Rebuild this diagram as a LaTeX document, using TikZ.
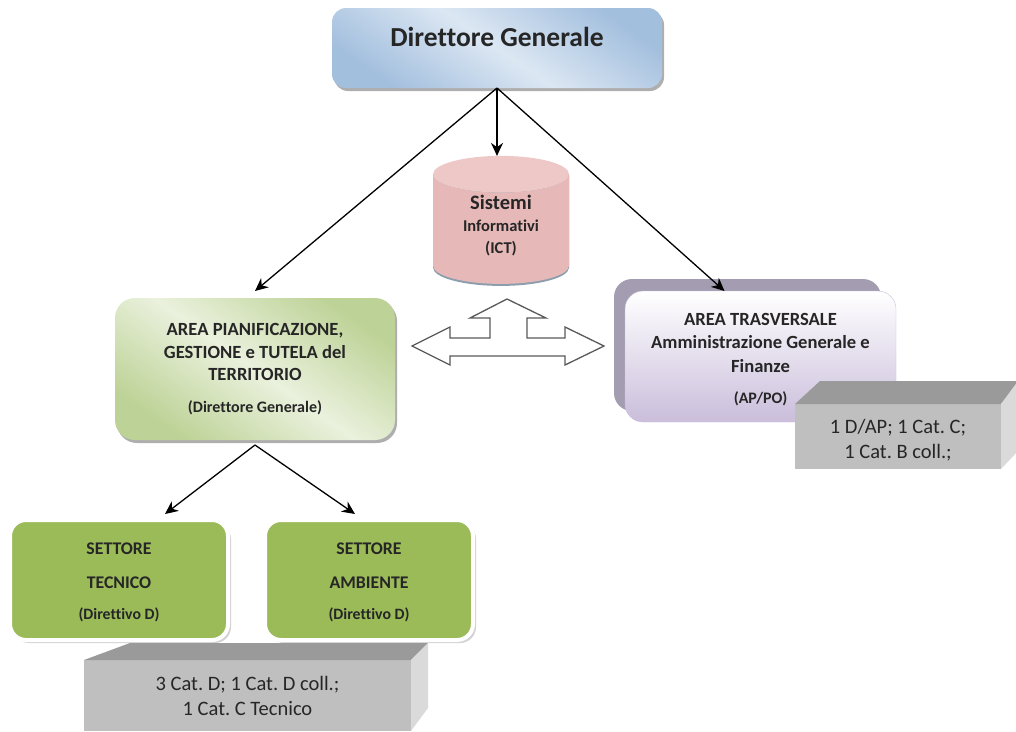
\documentclass[tikz,border=0pt]{standalone}
\usepackage{fontspec}
\setmainfont{Carlito}[Ligatures=CommonOff]
\usetikzlibrary{arrows.meta,shadows,shapes.geometric}
\definecolor{textdark}{HTML}{262626}
\definecolor{blueedge}{HTML}{A3BFDE}
\definecolor{bluemid}{HTML}{DCE7F3}
\definecolor{cylbody}{HTML}{E6B9B8}
\definecolor{cylend}{HTML}{EDC8C7}
\definecolor{cyledge}{HTML}{8C9DAE}
\definecolor{greenedge}{HTML}{BDD296}
\definecolor{greenmid}{HTML}{EAF1DD}
\definecolor{greenfull}{HTML}{9BBB59}
\definecolor{purpleback}{HTML}{A49CB0}
\definecolor{purplelow}{HTML}{CABEDB}
\definecolor{boxtop}{HTML}{9A9A9A}
\definecolor{boxfront}{HTML}{BFBFBF}
\definecolor{boxside}{HTML}{DADADA}
\tikzset{
  softshadow/.style={drop shadow={shadow xshift=2pt,shadow yshift=-3pt,fill=black!45,opacity=0.7}},
  gradbox/.style={rectangle,rounded corners=14pt,align=center,text=textdark,outer sep=0pt,softshadow},
  settorebox/.style={rectangle,rounded corners=16pt,align=center,text=textdark,outer sep=0pt,
    minimum height=120pt,fill=greenfull,draw=white,line width=4pt,
    drop shadow={shadow xshift=3pt,shadow yshift=-3pt,fill=black!35},font=\fontsize{17.8}{16}\selectfont\bfseries},
  facebox/.style={rectangle,fill=boxfront,align=center,text=textdark,outer sep=0pt,font=\fontsize{20.5}{25}\selectfont},
  link/.style={line width=1.3pt,-{Stealth[length=13pt,width=12pt]}}
}
\frenchspacing
\begin{document}
\begin{tikzpicture}[x=1pt,y=-1pt]
\useasboundingbox (0,0) rectangle (1016,731);
\node[gradbox,minimum width=330pt,minimum height=80pt,top color=blueedge,bottom color=blueedge,middle color=bluemid,shading angle=-35,
  text depth=22pt,font=\fontsize{27.5}{30}\selectfont\bfseries] (direttore) at (497,48) {Direttore Generale};
\node[cylinder,shape border rotate=90,aspect=5.5,minimum width=136pt,minimum height=128pt,outer sep=0pt,
  fill=cyledge] (sistemiShadow) at (501,234) {};
\node[cylinder,shape border rotate=90,aspect=5.5,minimum width=136pt,minimum height=128pt,outer sep=0pt,
  cylinder uses custom fill,cylinder body fill=cylbody,cylinder end fill=cylend] (sistemi) at (501,232) {};
\node[align=center,text=textdark,font=\fontsize{16.5}{22}\selectfont\bfseries] (sistemiLabel) at (501,226)
  {{\fontsize{20.5}{22}\selectfont Sistemi}\\Informativi\\(ICT)};
\node[gradbox,rounded corners=20pt,minimum width=280pt,minimum height=142pt,top color=greenedge,bottom color=greenedge,middle color=greenmid,shading angle=-35,
  font=\fontsize{18.6}{22.5}\selectfont\bfseries] (area) at (255,369)
  {AREA PIANIFICAZIONE,\\GESTIONE e TUTELA del\\TERRITORIO\\[9pt]{\fontsize{16}{16}\selectfont (Direttore Generale)}};
\node[rectangle,rounded corners=18pt,fill=purpleback,minimum width=267pt,minimum height=132pt,outer sep=0pt] (trasversaleBack) at (747.5,345) {};
\node[rectangle,rounded corners=18pt,draw=purplelow,top color=white,bottom color=purplelow,align=center,text=textdark,outer sep=0pt,
  minimum width=271pt,minimum height=131pt,font=\fontsize{18.6}{23.5}\selectfont\bfseries] (trasversale) at (760.5,356.5)
  {\rule{0pt}{18pt}AREA TRASVERSALE\\Amministrazione Generale e\\Finanze\\[8pt]{\fontsize{16}{16}\selectfont (AP/PO)}};
\node[settorebox,minimum width=218pt] (tecnico) at (119,580) {\rule{0pt}{16pt}SETTORE\\[18pt]TECNICO\\[15pt]{\fontsize{15.8}{15}\selectfont (Direttivo D)}};
\node[settorebox,minimum width=208pt] (ambiente) at (369,580) {\rule{0pt}{16pt}SETTORE\\[18pt]AMBIENTE\\[15pt]{\fontsize{15.8}{15}\selectfont (Direttivo D)}};
%staff boxes
\node[facebox,minimum width=206pt,minimum height=65pt] (staffTrasversale) at (898,436.5) {\rule{0pt}{22pt}1 D/AP; 1 Cat. C;\\1 Cat. B coll.;};
\fill[boxtop] (staffTrasversale.north west) -- ++(25,-23) -- ++(200,0) -- (staffTrasversale.north east) --cycle;
\fill[boxside] (staffTrasversale.north east) -- ++(17,-23) -- ++(0,70) -- (staffTrasversale.south east) --cycle;
\node[facebox,minimum width=327pt,minimum height=71pt] (staffSettori) at (247.5,695.5) {3 Cat. D; 1 Cat. D coll.;\\1 Cat. C Tecnico};
\fill[boxtop] (staffSettori.north west) -- ++(46,-17) -- ++(298,0) -- (staffSettori.north east) --cycle;
\fill[boxside] (staffSettori.north east) -- ++(17,-17) -- ++(0,65) -- (staffSettori.south east) --cycle;
%three way arrow
\draw[black!65,fill=white,line width=1.3pt] (412,346) -- (450,327) -- (450,338) -- (490,338) -- (490,318) -- (470,318) -- (507,299)
  -- (546,318) -- (527,318) -- (527,338) -- (565,338) -- (565,327) -- (604,346) -- (565,365) -- (565,356)
  -- (450,356) -- (450,365) --cycle;
\coordinate (split) at (255,445);
\draw[link] (direttore.south) -- ([yshift=7pt]area.north);
\draw[link] (direttore.south) -- (direttore.south |- sistemi.north);
\draw[link] (direttore.south) -- ([xshift=-36pt]trasversale.north);
\draw[link] (split) -- ([xshift=46pt,yshift=6pt]tecnico.north);
\draw[link] (split) -- ([xshift=-14pt,yshift=6pt]ambiente.north);
\end{tikzpicture}
\end{document}
